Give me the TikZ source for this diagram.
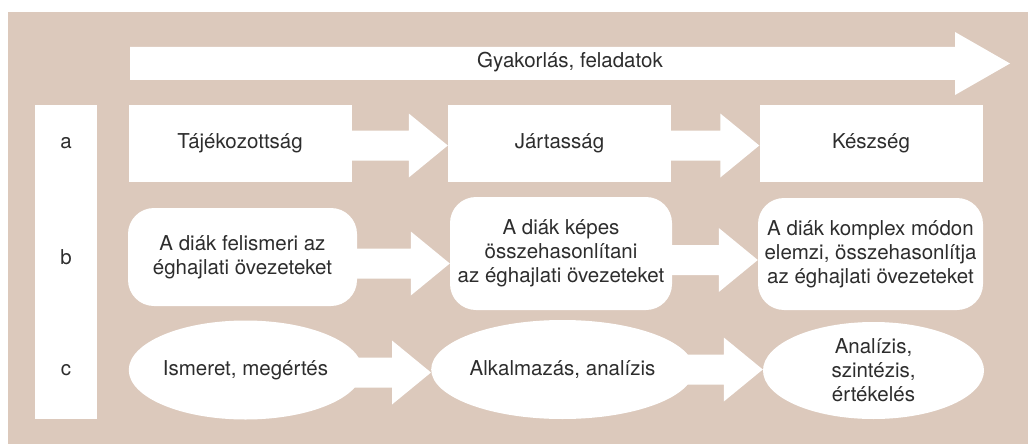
\documentclass[tikz,border=0pt]{standalone}
\usepackage{fontspec}
\setmainfont{TeX Gyre Heros}
\usetikzlibrary{calc}
\usetikzlibrary{shapes.geometric}
\definecolor{sand}{RGB}{220,201,188}
\definecolor{ink}{RGB}{45,45,45}

\begin{document}
\begin{tikzpicture}[x=1pt,y=-1pt,
  every node/.style={text=ink,font=\fontsize{20.5pt}{24pt}\selectfont,align=center,inner sep=0pt},
  sqbox/.style={fill=white,minimum width=223,minimum height=77},
  rndbox/.style={fill=white,rounded corners=26,minimum width=222,minimum height=113},
  oval/.style={ellipse,fill=white,minimum width=225,minimum height=99}]

\useasboundingbox (0,0) rectangle (1028,444);
\fill[sand] (8,12) rectangle (1028,444);

\fill[white] (130,47) -- (955,47) -- (955,32) -- (1010,63.5) -- (955,95) -- (955,80) -- (130,80) -- cycle;
\node (practice) at (570,62) {Gyakorlás, feladatok};

\node[fill=white,minimum width=62,minimum height=314] (col) at (66,262) {};

\node[sqbox] (a1) at (240,143.5) {Tájékozottság};
\node[sqbox] (a2) at (559.5,143.5) {Jártasság};
\node[sqbox] (a3) at (871,143.5) {Készség};

\node[rndbox,minimum width=229,minimum height=98] (b1) at (242.5,257) {A diák felismeri az\\éghajlati övezeteket};
\node[rndbox] (b2) at (561,253.5) {A diák képes\\összehasonlítani\\az éghajlati övezeteket};
\node[rndbox,minimum width=225,minimum height=112] (b3) at (870.5,254) {A diák komplex módon\\elemzi, összehasonlítja\\az éghajlati övezeteket};

\node[oval] (c1) at (245.5,370) {Ismeret, megértés};
\node[oval] (c2) at (562.5,369.5) {Alkalmazás, analízis};
\node[oval,minimum width=221,minimum height=97] (c3) at (873.5,370.5) {Analízis,\\szintézis,\\értékelés};

\node at (col |- a1) {a};
\node at (col |- b1) {b};
\node at (col |- c1) {c};

\foreach \s/\t/\dy/\in in {a1/a2/2/1,a2/a3/2/1,b1/b2/10/1,b2/b3/6/1,c1/c2/3/10,c2/c3/-1/10}
  \fill[white] ($(\s.east|-\t.west)+(-\in,\dy-15)$) -- ($(\t.west)+(-39,\dy-15)$)
    -- ($(\t.west)+(-39,\dy-32)$) -- ($(\t.west)+(0,\dy)$) -- ($(\t.west)+(-39,\dy+32)$)
    -- ($(\t.west)+(-39,\dy+15)$) -- ($(\s.east|-\t.west)+(-\in,\dy+15)$) -- cycle;

\end{tikzpicture}
\end{document}
